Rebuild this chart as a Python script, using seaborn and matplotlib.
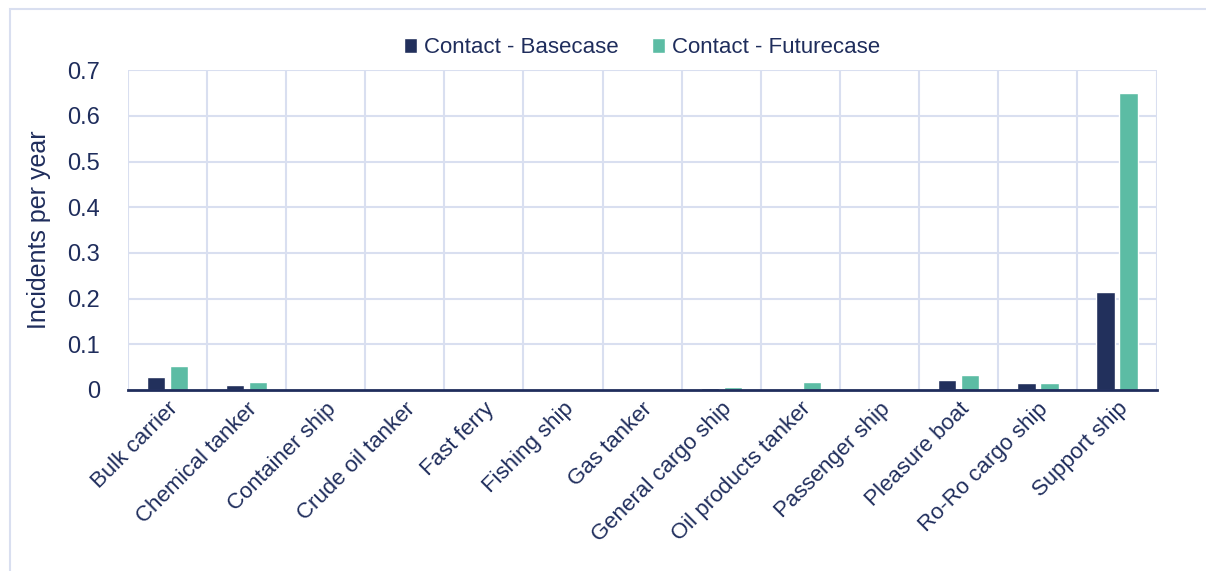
import numpy as np
import pandas as pd
import matplotlib
matplotlib.use("Agg")
import matplotlib.pyplot as plt
import seaborn as sns
from matplotlib.patches import Rectangle

ship_types = ["Bulk carrier", "Chemical tanker", "Container ship", "Crude oil tanker",
              "Fast ferry", "Fishing ship", "Gas tanker", "General cargo ship",
              "Oil products tanker", "Passenger ship", "Pleasure boat",
              "Ro-Ro cargo ship", "Support ship"]
basecase = [0.028, 0.011, 0.0, 0.001, 0.0, 0.0, 0.0, 0.004, 0.0, 0.0, 0.021, 0.015, 0.214]
futurecase = [0.053, 0.017, 0.0, 0.001, 0.0, 0.0, 0.0, 0.006, 0.018, 0.0, 0.032, 0.015, 0.650]
series_names = ["Contact - Basecase", "Contact - Futurecase"]

NAVY = "#1f2d5c"
BASE_C = "#22305c"
FUT_C = "#5cbca4"
GRID_C = "#d9dff0"

df = pd.DataFrame({
    "ship": ship_types * 2,
    "value": basecase + futurecase,
    "series": [series_names[0]] * len(ship_types) + [series_names[1]] * len(ship_types),
})

sns.set_style("white")
plt.rcParams["font.family"] = ["Liberation Sans", "DejaVu Sans"]

fig = plt.figure(figsize=(12.06, 5.71), dpi=100)
ax = fig.add_axes([0.106, 0.317, 0.853, 0.56])

sns.barplot(data=df, x="ship", y="value", hue="series", order=ship_types,
            palette=[BASE_C, FUT_C], width=0.58, gap=0.2, ax=ax, saturation=1)

ax.set_xlim(-0.5, len(ship_types) - 0.5)
ax.set_ylim(0, 0.7)
yt = np.arange(0, 0.71, 0.1)
ax.set_yticks(yt)
ax.set_yticklabels(["0"] + [f"{v:.1f}" for v in yt[1:]], fontsize=17, color=NAVY)
ax.set_ylabel("Incidents per year", fontsize=18, color=NAVY, labelpad=12)
ax.set_xlabel("")

# grid: horizontal at each tick, vertical at category boundaries
for v in yt[1:]:
    ax.axhline(v, color=GRID_C, lw=1.5, zorder=0)
for b in np.arange(-0.5, len(ship_types), 1.0):
    ax.axvline(b, color=GRID_C, lw=1.5, zorder=0)

ax.set_xticks(np.arange(-0.5, len(ship_types), 1.0), minor=False)
ax.set_xticklabels([])
ax.set_xticks(np.arange(len(ship_types)), minor=True)
ax.set_xticklabels(ship_types, minor=True, rotation=45, ha="right",
                   rotation_mode="anchor", fontsize=16, color=NAVY)
ax.tick_params(axis="x", which="major", direction="inout", length=14, width=2, color=NAVY)
ax.tick_params(axis="x", which="minor", length=0, pad=6)
ax.tick_params(axis="y", length=0, pad=20)

for s in ["left", "right", "top"]:
    ax.spines[s].set_visible(False)
ax.spines["bottom"].set_color(NAVY)
ax.spines["bottom"].set_linewidth(2)

handles, labels = ax.get_legend_handles_labels()
ax.legend(handles, labels, loc="lower center", bbox_to_anchor=(0.5, 0.975), ncol=2,
          frameon=False, fontsize=16, handlelength=0.6, handleheight=0.7,
          handletextpad=0.3, columnspacing=1.5, labelcolor=NAVY)

fig.patches.append(Rectangle((0.008, -0.01), 1.0, 0.995, transform=fig.transFigure,
                             fill=False, edgecolor=GRID_C, lw=1.5))

fig.savefig("out.png", dpi=100)
